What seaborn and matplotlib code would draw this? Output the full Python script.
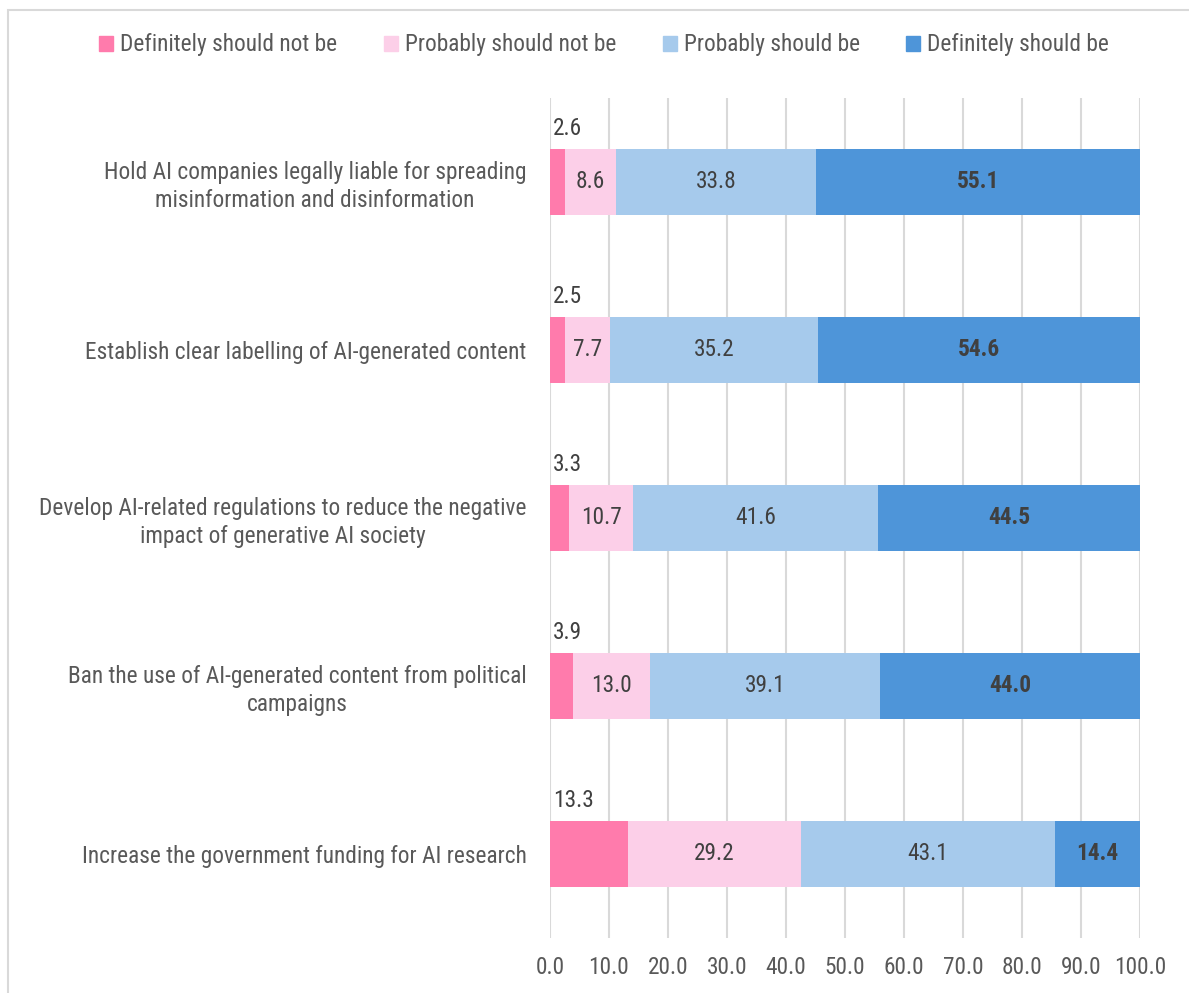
import matplotlib
matplotlib.use("Agg")
import matplotlib.pyplot as plt
import seaborn as sns
import numpy as np
import pandas as pd
from matplotlib.patches import Rectangle

categories = [
    "Hold AI companies legally liable for spreading\nmisinformation and disinformation",
    "Establish clear labelling of AI-generated content",
    "Develop AI-related regulations to reduce the negative\nimpact of generative AI society",
    "Ban the use of AI-generated content from political\ncampaigns",
    "Increase the government funding for AI research",
]
series_names = ["Definitely should not be", "Probably should not be",
                "Probably should be", "Definitely should be"]
def_not = [2.6, 2.5, 3.3, 3.9, 13.3]
prob_not = [8.6, 7.7, 10.7, 13.0, 29.2]
prob_yes = [33.8, 35.2, 41.6, 39.1, 43.1]
def_yes = [55.1, 54.6, 44.5, 44.0, 14.4]
xticks = [0, 10, 20, 30, 40, 50, 60, 70, 80, 90, 100]

colors = ["#FF7BAC", "#FCCFE8", "#A6CAEC", "#4E95D9"]

sns.set_theme(style="white")
plt.rcParams["font.family"] = ["Liberation Sans Narrow", "Roboto Condensed", "DejaVu Sans"]

FS = 16.8
series = [def_not, prob_not, prob_yes, def_yes]
cum = np.cumsum(np.array(series), axis=0)

fig = plt.figure(figsize=(11.89, 9.93), dpi=100)
ax = fig.add_axes([550 / 1189, 1 - 938 / 993, 590 / 1189, 840 / 993])

# draw from total down so that earlier series sit on top
for i in range(3, -1, -1):
    df = pd.DataFrame({"cat": categories, "val": cum[i]})
    sns.barplot(data=df, x="val", y="cat", orient="h", color=colors[i],
                width=0.393, saturation=1, linewidth=0, ax=ax, zorder=3)

ax.set_xlim(0, 100)
ax.set_ylim(4.5, -0.5)
ax.set_xlabel("")
ax.set_ylabel("")
ax.set_xticks(xticks)
ax.set_xticklabels([f"{t:.1f}" for t in xticks])
ax.grid(axis="x", color="#D9D9D9", linewidth=1.5, zorder=0)
ax.grid(axis="y", visible=False)
for s in ax.spines.values():
    s.set_visible(False)
ax.tick_params(axis="x", length=0, pad=13, labelsize=FS, labelcolor="#595959")
ax.tick_params(axis="y", length=0, pad=17, labelsize=FS, labelcolor="#595959")
for lbl in ax.get_yticklabels():
    lbl.set_multialignment("center")
    lbl.set_linespacing(1.25)

# value labels
txtc = "#404040"
for j in range(len(categories)):
    # first series: above the bar, at the left
    ax.text(0.5, j - 0.393 / 2 - 0.055, f"{def_not[j]:.1f}", ha="left", va="bottom",
            fontsize=FS, color=txtc, zorder=5)
    for i in range(1, 4):
        start = cum[i - 1][j]
        v = series[i][j]
        ax.text(start + v / 2, j, f"{v:.1f}", ha="center", va="center",
                fontsize=FS, color=txtc, zorder=5,
                fontweight="bold" if i == 3 else "normal")

# legend
handles = [Rectangle((0, 0), 1, 1, color=c) for c in colors]
fig.legend(handles, series_names, loc="center", bbox_to_anchor=(0.508, 1 - 45 / 993),
           ncol=4, frameon=False, fontsize=FS, labelcolor="#595959",
           handlelength=0.6, handleheight=0.6, handletextpad=0.3, columnspacing=2.0)

# chart border
fig.patches.append(Rectangle((8 / 1189, -0.1), 1.2, 1.1 - 10 / 993,
                             transform=fig.transFigure, fill=False,
                             edgecolor="#D9D9D9", linewidth=1.5))

fig.savefig("out.png", dpi=100)
